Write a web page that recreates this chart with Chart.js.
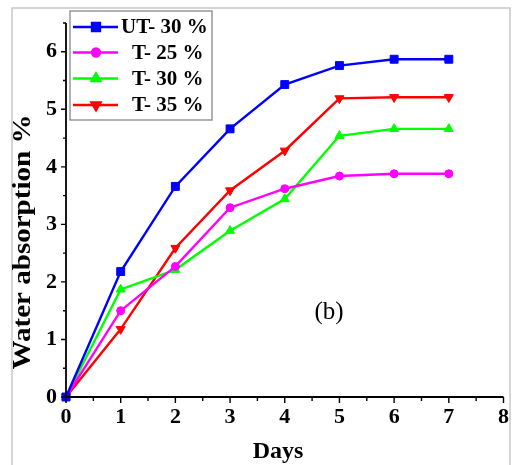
<!DOCTYPE html>
<html>
<head>
<meta charset="utf-8">
<script src="https://cdn.jsdelivr.net/npm/chart.js@4.4.1/dist/chart.umd.min.js"></script>
<style>
  html, body { margin: 0; padding: 0; background: #fff; }
  #wrap { width: 516px; height: 465px; position: relative; }
</style>
</head>
<body>
<div id="wrap"><canvas id="chart" width="516" height="465"></canvas></div>
<script>
// data
const days = [0, 1, 2, 3, 4, 5, 6, 7];
const ut30 = [0, 2.18, 3.66, 4.66, 5.43, 5.76, 5.87, 5.87];
const t25 = [0, 1.50, 2.27, 3.29, 3.62, 3.84, 3.88, 3.88];
const t30 = [0, 1.87, 2.21, 2.89, 3.44, 4.54, 4.66, 4.66];
const t35 = [0, 1.18, 2.59, 3.59, 4.28, 5.19, 5.21, 5.21];
const xTicks = [0, 1, 2, 3, 4, 5, 6, 7, 8];
const yTicks = [0, 1, 2, 3, 4, 5, 6];
const seriesNames = ['UT- 30 %', 'T- 25 %', 'T- 30 %', 'T- 35 %'];

const serif = '"Liberation Serif", "Times New Roman", serif';

function series(label, values, color, style, radius, rotation) {
  return {
    label,
    data: values.map((v, i) => ({ x: days[i], y: v })),
    borderColor: color,
    backgroundColor: color,
    borderWidth: 2.4,
    pointStyle: style,
    pointRadius: radius,
    pointRotation: rotation || 0,
    pointBorderWidth: 1,
    pointHoverRadius: radius,
    tension: 0,
    clip: false
  };
}

const datasets = [
  series(seriesNames[0], ut30, '#0000ff', 'rect', 5.6),
  series(seriesNames[1], t25, '#ff00ff', 'circle', 4),
  series(seriesNames[2], t30, '#00ff00', 'triangle', 5.2),
  series(seriesNames[3], t35, '#ff0000', 'triangle', 5.2, 180)
];

// frame, axes, minor ticks, titles and the boxed legend
const decor = {
  id: 'decor',
  beforeDraw(chart) {
    const ctx = chart.ctx;
    ctx.save();
    ctx.fillStyle = '#fff';
    ctx.fillRect(0, 0, chart.width, chart.height);
    ctx.strokeStyle = '#c8c8c8';
    ctx.lineWidth = 1.5;
    ctx.strokeRect(12, 8, 498, 470);
    ctx.restore();
  },
  afterDatasetsDraw(chart) {
    const ctx = chart.ctx;
    const xs = chart.scales.x, ys = chart.scales.y;
    const a = chart.chartArea;
    ctx.save();
    ctx.strokeStyle = '#000';
    ctx.lineWidth = 1.8;
    ctx.beginPath();
    ctx.moveTo(a.left, a.top);
    ctx.lineTo(a.left, a.bottom);
    ctx.lineTo(a.right, a.bottom);
    ctx.stroke();

    ctx.lineWidth = 1.4;
    ctx.beginPath();
    for (let v = 0; v <= 8; v += 0.5) {
      const px = xs.getPixelForValue(v);
      const len = Number.isInteger(v) ? 6 : 4;
      ctx.moveTo(px, a.bottom);
      ctx.lineTo(px, a.bottom + len);
    }
    for (let v = 0; v <= 6.5; v += 0.5) {
      const py = ys.getPixelForValue(v);
      const len = Number.isInteger(v) ? 5 : 3;
      ctx.moveTo(a.left, py);
      ctx.lineTo(a.left - len, py);
    }
    ctx.stroke();

    // axis titles
    ctx.fillStyle = '#000';
    ctx.textAlign = 'center';
    ctx.textBaseline = 'middle';
    ctx.font = 'bold 24px ' + serif;
    ctx.fillText('Days', 278, 452);

    ctx.save();
    ctx.translate(24, 242);
    ctx.rotate(-Math.PI / 2);
    ctx.font = 'bold 25px ' + serif;
    const w = ctx.measureText('Water absorption %').width;
    ctx.scale(255 / w, 1);
    ctx.fillText('Water absorption %', 0, 0);
    ctx.restore();

    ctx.font = '25px ' + serif;
    ctx.fillText('(b)', 329, 312);

    // legend box
    ctx.fillStyle = '#fff';
    ctx.fillRect(70, 11, 142, 109);
    ctx.strokeStyle = '#888';
    ctx.lineWidth = 1.3;
    ctx.strokeRect(70, 11, 142, 109);
    const rowY = [27, 52.5, 78.5, 105];
    const textX = [121, 132, 132, 132];
    chart.data.datasets.forEach((ds, i) => {
      const y = rowY[i];
      ctx.strokeStyle = ds.borderColor;
      ctx.lineWidth = 2.4;
      ctx.beginPath();
      ctx.moveTo(73, y);
      ctx.lineTo(118, y);
      ctx.stroke();
      ctx.fillStyle = ds.backgroundColor;
      Chart.helpers.drawPoint(ctx, {
        pointStyle: ds.pointStyle,
        radius: ds.pointRadius,
        rotation: ds.pointRotation,
        borderWidth: 1
      }, 96, y);
      ctx.fillStyle = '#000';
      ctx.textAlign = 'left';
      ctx.font = 'bold 21px ' + serif;
      ctx.fillText(ds.label, textX[i], y + 1);
    });
    ctx.restore();
  }
};

new Chart(document.getElementById('chart'), {
  type: 'line',
  data: { datasets },
  options: {
    responsive: false,
    animation: false,
    devicePixelRatio: 1,
    layout: { padding: { left: 26, right: 12, top: 23, bottom: 38 } },
    plugins: {
      legend: { display: false },
      tooltip: { enabled: false },
      title: { display: false }
    },
    scales: {
      x: {
        type: 'linear',
        min: 0,
        max: 8,
        afterBuildTicks: s => { s.ticks = xTicks.map(v => ({ value: v })); },
        afterFit: s => { s.height = 30; },
        grid: { display: false, drawTicks: false },
        border: { display: false },
        ticks: {
          padding: 7,
          color: '#000',
          font: { family: serif, size: 22, weight: 'bold' },
          maxRotation: 0,
          autoSkip: false
        }
      },
      y: {
        type: 'linear',
        min: 0,
        max: 6.5,
        afterBuildTicks: s => { s.ticks = yTicks.map(v => ({ value: v })); },
        afterFit: s => { s.width = 40; },
        grid: { display: false, drawTicks: false },
        border: { display: false },
        ticks: {
          padding: 9,
          color: '#000',
          font: { family: serif, size: 22, weight: 'bold' },
          autoSkip: false
        }
      }
    }
  },
  plugins: [decor]
});
</script>
</body>
</html>
